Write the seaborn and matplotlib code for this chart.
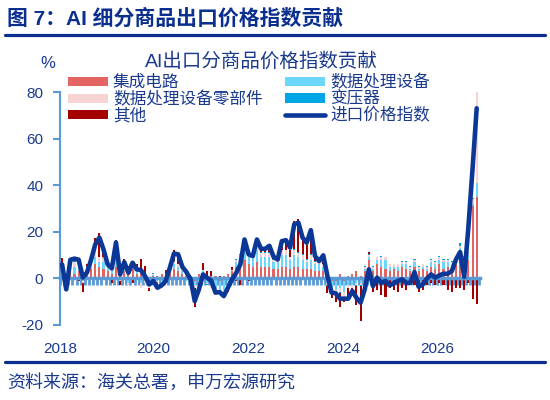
import numpy as np
import matplotlib
matplotlib.use("Agg")
import matplotlib.pyplot as plt
import seaborn as sns
from matplotlib.lines import Line2D
from matplotlib.patches import Patch

# ---------------- data (monthly) ----------------
price_index = [6, -4.7, 8, 8.5, 8, 0.4, 2.5, 8, 14.6, 17.5,
               12.4, 6, 4.3, 15.4, 1.7, 7, 2.4, 6.7, 3.9, 3.6,
               1, -2.6, -1.1, -4, -3, -1.1, 4.6, 10.7, 10.3, 5,
               2.7, -0.4, -9.7, -4.7, 1.7, 0.3, -1.1, -6.1, -5.9, -7.6,
               -4, -0.4, 2.4, 6, 16.7, 10.3, 9.6, 16.7, 12.7, 12.7,
               14, 9.3, 8.1, 16, 16.4, 13.2, 23.2, 23.9, 17.5, 15.3,
               20.7, 9.6, 7.4, 9.9, 1, -6.1, -6.4, -8.7, -8.7, -8.7,
               -5.4, -8.3, -10.4, -4.7, 3.9, -3.3, 0.3, -1.9, -1.1, -3,
               -2.1, -1.1, -0.4, -1.9, -1.9, 2.7, -3.6, -2.6, -0.1, 1.7,
               0.3, 1.3, 2, 2, 3.1, 8.1, 11.3, 0.7, 22, 47,
               73]

ic = [1, -1, 3, 2, 3, 1, 2, 4, 6, 5,
      4, 3, 2, 5, 1, 3, 2, 4, 2, 3,
      1, -1, 1, 1, 2, -1, 3, 4, 3, 2,
      1, 1, -1, 2, 2, 1, 1, 1, -1, 1,
      2, 3, 5, 6, 8, 6, 5, 7, 5, 5,
      5, 4, 4, 5, 5, 4, 5, 5, 4, 4,
      4, 3, 3, 3, 1, -1, -1, 2, -1, 1,
      2, 3, 1, 3, 8, 3, 6, 5, 4, 3,
      4, 3, 5, 4, 3, 5, 3, 4, 3, 5,
      4, 6, 4, 5, 5, 7, 11, 7, 8, 31,
      35]

dpe = [1, -1, 2, 3, 1, -1, 2, 2, 3, 2,
       3, 2, 2, 4, 1, 3, -2, 2, 1, -2,
       -1, -2, 0.5, -1, -1, 1, 1, 2, 2, 1,
       -1, -1, -2, -1, 1, -2, -3, -4, -5, -5,
       -4, -2, 2, 3, 5, 4, 4, 5, 4, 4,
       4, 3, 3, 5, 5, 4, 5, 4, 4, 3,
       4, 3, 3, 2, -2, -3, -4, -4, -5, -3,
       -3, -2, -2, 1, 1, 1, 2, 3, 4, 2,
       1, 2, 1, 2, 1, 2, 1, 1, 1, 2,
       2, 2, 3, 2, 1, 1, 2, 1, 2, 1,
       6]

parts = [0.5, -1, 1, 2, 5, -1, 1, 2, 3, 2,
         2, 1, 1, 2, -1, 1, -1, 1, 1, -2,
         -1, -1, 0.5, -0.5, -1, 0.5, 1, 1, 1, 1,
         0.5, -0.5, -1, -0.5, 0.5, -0.5, -1, -1, -1, -1,
         -0.5, 0.5, 1, 1, 2, 1, 1, 2, 2, 2,
         2, 1, 1, 2, 2, 1, 2, 2, 2, 1,
         2, 1, 1, 1, -1, -2, -2, -2, -2, -1,
         -1, -1, -1, 1, 1, 1, 1, 1, 1, 1,
         1, 1, 1, 1, 1, 1, 1, 1, 1, 1,
         1, 1, 1, 1, 1, 1, 1, 1, 1, 2,
         39]

transformer = [0.3, 0.2, 0.3, 0.3, 0.3, 0.2, 0.3, 0.3, 0.3, 0.3,
               0.3, 0.3, 0.3, 0.3, 0.2, 0.3, 0.2, 0.3, 0.3, 0.2,
               0.2, -0.3, 0.2, -0.3, -0.3, 0.2, 0.3, 0.3, 0.3, 0.3,
               -0.3, -0.3, -0.3, -0.3, 0.2, -0.3, -0.3, -0.3, -0.3, -0.3,
               -0.3, 0.2, 0.3, 0.3, 0.3, 0.3, 0.3, 0.3, 0.3, 0.3,
               0.3, 0.3, 0.3, 0.3, 0.3, 0.3, 0.5, 0.5, 0.3, 0.3,
               0.3, 0.3, 0.3, 0.3, -0.3, -0.3, -0.3, -0.3, -0.3, -0.3,
               -0.3, -0.3, -0.3, 0.3, 0.3, 0.3, 0.3, 0.5, 0.3, 0.3,
               0.3, 0.3, 0.3, 0.3, 0.3, 0.3, 0.3, 0.3, 0.3, 0.5,
               0.5, 0.5, 0.5, 0.5, 0.5, 0.7, 1, 0.5, 0.5, 0.5,
               0.5]

other = [6, -2, 1, 1, -1, -4, 1, 1, 5, 10,
         4, 1, -2, 5, -2, 1, 3, -2, 2, 5,
         4, -1, -1, -2, -1, 2, 1, 5, 3, 2,
         2, -1, -8, -3, 3, 2, 2, -1, 1, -1,
         -1, 1, -1, -3, 1, -1, 0, 1, 1, 1,
         2, 1, 1, 3, 4, 3, 12, 14, 7, 6,
         10, 2, 1, 3, -3, -2, -3, -6, -2, -4,
         -2, -8, -15, -6, 1, -6, -5, -7, -8, -4,
         -5, -6, -4, -5, -2, -3, -6, -5, -3, -2,
         -3, -2, -3, -5, -6, -4, -4, -5, -2, -9,
         -11]

series_names = ["集成电路", "数据处理设备", "数据处理设备零部件", "变压器", "其他"]
line_name = "进口价格指数"
year_labels = ["2018", "2020", "2022", "2024", "2026"]
year_label_pos = [-0.4, 22.0, 44.9, 67.8, 90.4]
y_ticks = [-20, 0, 20, 40, 60, 80]

# ---------------- style ----------------
navy = "#1a3a8f"
dark_navy = "#0b2f8f"
axis_blue = "#5b9bd5"
colors = {"集成电路": "#e46464", "数据处理设备": "#6dd6fb",
          "数据处理设备零部件": "#f8d3d3", "变压器": "#00a6e6", "其他": "#a50000"}
line_color = "#0b3896"

sns.set_theme(style="white")
plt.rcParams["font.family"] = ["Liberation Sans", "Noto Sans CJK SC"]
plt.rcParams["axes.unicode_minus"] = False

fig = plt.figure(figsize=(5.5, 4.0), dpi=100)
ax = fig.add_axes([60 / 550, 75 / 400, 420 / 550, 233 / 400])

N = len(price_index)
x = np.arange(N)
data = {"集成电路": ic, "数据处理设备": dpe, "数据处理设备零部件": parts,
        "变压器": transformer, "其他": other}

pos_b = np.zeros(N)
neg_b = np.zeros(N)
for name in series_names:
    v = np.asarray(data[name], dtype=float)
    bottom = np.where(v >= 0, pos_b, neg_b)
    ax.bar(x, v, bottom=bottom, width=0.5, color=colors[name], linewidth=0, zorder=2)
    pos_b += np.clip(v, 0, None)
    neg_b += np.clip(v, None, 0)

sns.lineplot(x=x, y=price_index, ax=ax, color=line_color, linewidth=3.3, zorder=4,
             solid_joinstyle="round", solid_capstyle="round")

ax.set_xlim(-0.41, 100.8)
ax.set_ylim(-20, 80)
ax.set_yticks(y_ticks)
ax.set_yticklabels([str(t) for t in y_ticks])
ax.tick_params(axis="y", length=5, width=1.5, color=axis_blue, labelsize=11,
               labelcolor=navy, pad=7, left=True, direction="out")
for s in ["top", "right"]:
    ax.spines[s].set_visible(False)
ax.spines["left"].set_color(axis_blue)
ax.spines["left"].set_linewidth(1.5)
ax.spines["bottom"].set_position(("data", 0))
ax.spines["bottom"].set_color(axis_blue)
ax.spines["bottom"].set_linewidth(2.5)
ax.spines["bottom"].set_zorder(3)
ax.set_xticks([])
ax.set_xticks(np.arange(-0.5, N, 1), minor=True)
ax.tick_params(axis="x", which="minor", length=5, width=2, color=axis_blue,
               direction="out", bottom=True, labelbottom=False)
ax.grid(False)
ax.set_xlabel("")
ax.set_ylabel("")

sec = ax.secondary_xaxis(0)
sec.set_xticks(year_label_pos)
sec.set_xticklabels(year_labels)
sec.tick_params(length=0, pad=12, labelsize=11, labelcolor=navy)
sec.spines["bottom"].set_visible(False)

# ---------------- texts ----------------
fig.text(7 / 550, 1 - 19 / 400, "图 7：AI 细分商品出口价格指数贡献", fontsize=15,
         fontweight="bold", color=dark_navy, ha="left", va="center")
fig.add_artist(Line2D([5 / 550, 545 / 550], [1 - 34.5 / 400] * 2, color=dark_navy, lw=2.3))
fig.add_artist(Line2D([5 / 550, 545 / 550], [1 - 361.5 / 400] * 2, color=dark_navy, lw=2.3))
fig.text(261 / 550, 1 - 62 / 400, "AI出口分商品价格指数贡献", fontsize=14,
         color=navy, ha="center", va="center")
fig.text(48 / 550, 1 - 63 / 400, "%", fontsize=12, color=navy, ha="center", va="center")
fig.text(7 / 550, 1 - 383 / 400, "资料来源：海关总署，申万宏源研究", fontsize=13,
         color=navy, ha="left", va="center")

order = ["集成电路", "数据处理设备零部件", "其他", "数据处理设备", "变压器"]
handles = [Patch(facecolor=colors[n], edgecolor="none") for n in order]
handles.append(Line2D([], [], color=line_color, lw=3.3))
labels = order + [line_name]
fig.legend(handles, labels, loc="upper left", bbox_to_anchor=(68 / 550, 1 - 74 / 400),
           ncol=2, frameon=False, fontsize=12, handlelength=2.4, handleheight=0.5,
           handletextpad=0.3, columnspacing=1.35, labelspacing=0.05, borderpad=0,
           borderaxespad=0, labelcolor=navy)

fig.savefig("out.png", dpi=100)
